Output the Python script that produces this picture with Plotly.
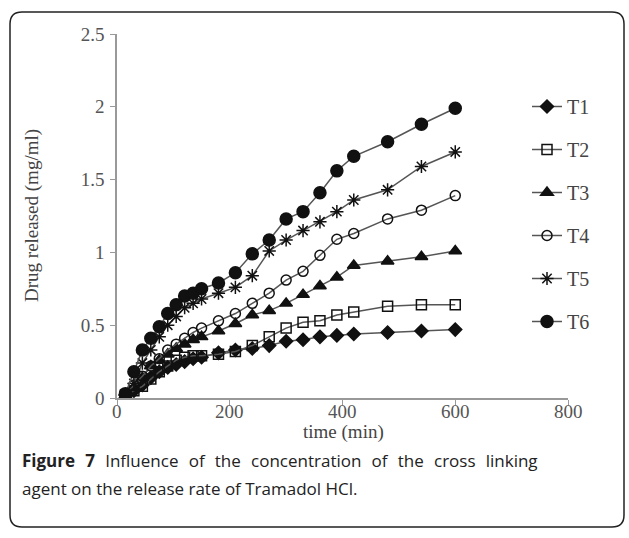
import plotly.graph_objects as go

time_min = [15, 30, 45, 60, 75, 90, 105, 120, 135, 150, 180, 210, 240, 270, 300, 330, 360, 390, 420, 480, 540, 600]

T1 = [0.02, 0.05, 0.09, 0.14, 0.18, 0.21, 0.23, 0.25, 0.27, 0.28, 0.31, 0.33, 0.34, 0.36, 0.39, 0.40, 0.42, 0.43, 0.44, 0.45, 0.46, 0.47]
T2 = [0.02, 0.05, 0.08, 0.13, 0.18, 0.22, 0.26, 0.28, 0.29, 0.29, 0.30, 0.32, 0.36, 0.42, 0.48, 0.52, 0.53, 0.57, 0.59, 0.63, 0.64, 0.64]
T3 = [0.02, 0.07, 0.14, 0.22, 0.26, 0.30, 0.34, 0.37, 0.40, 0.42, 0.46, 0.51, 0.57, 0.60, 0.65, 0.71, 0.77, 0.83, 0.91, 0.94, 0.97, 1.01]
T4 = [0.02, 0.09, 0.15, 0.22, 0.27, 0.33, 0.37, 0.41, 0.45, 0.48, 0.53, 0.58, 0.65, 0.72, 0.81, 0.87, 0.98, 1.09, 1.13, 1.23, 1.29, 1.39]
T5 = [0.02, 0.10, 0.24, 0.33, 0.42, 0.50, 0.56, 0.62, 0.65, 0.68, 0.72, 0.76, 0.84, 1.01, 1.085, 1.15, 1.21, 1.28, 1.36, 1.43, 1.59, 1.69]
T6 = [0.03, 0.18, 0.33, 0.41, 0.49, 0.58, 0.64, 0.70, 0.72, 0.75, 0.79, 0.86, 0.99, 1.085, 1.23, 1.28, 1.41, 1.56, 1.66, 1.76, 1.88, 1.99]

series_names = ["T1", "T2", "T3", "T4", "T5", "T6"]
series_values = [T1, T2, T3, T4, T5, T6]
symbols = ["diamond", "square-open", "triangle-up", "circle-open", "asterisk-open", "circle"]
sizes = [10, 10, 11, 10, 11, 12]

x_ticks = [0, 200, 400, 600, 800]
x_tick_labels = ["0", "200", "400", "600", "800"]
y_ticks = [0, 0.5, 1, 1.5, 2, 2.5]
y_tick_labels = ["0", "0.5", "1", "1.5", "2", "2.5"]

fig = go.Figure()
for name, vals, sym, sz in zip(series_names, series_values, symbols, sizes):
    fig.add_trace(go.Scatter(
        x=time_min, y=vals, name=name, mode="lines+markers",
        legendgroup=name,
        line=dict(color="#555555", width=1.5),
        marker=dict(symbol=sym, size=sz, color="#111111",
                    line=dict(color="#111111", width=1.5)),
    ))

W, H = 629, 538
L, R, T, B = 117, 568, 34, 398
pw, ph = R - L, B - T

def px(x):
    return (x - L) / pw

def py(y):
    return (B - y) / ph

# rounded frame around the whole figure
x0, x1, y0, y1 = 10, 624, 12, 527
r = 12
path = (f"M {px(x0)},{py(y0 + r)} Q {px(x0)},{py(y0)} {px(x0 + r)},{py(y0)} "
        f"L {px(x1 - r)},{py(y0)} Q {px(x1)},{py(y0)} {px(x1)},{py(y0 + r)} "
        f"L {px(x1)},{py(y1 - r)} Q {px(x1)},{py(y1)} {px(x1 - r)},{py(y1)} "
        f"L {px(x0 + r)},{py(y1)} Q {px(x0)},{py(y1)} {px(x0)},{py(y1 - r)} Z")
fig.add_shape(type="path", path=path, xref="paper", yref="paper",
              line=dict(color="#222222", width=1.5))

serif = "Liberation Serif, Times New Roman, serif"
fig.update_layout(
    width=W, height=H,
    margin=dict(l=L, r=W - R, t=T, b=H - B),
    paper_bgcolor="white", plot_bgcolor="white",
    showlegend=True,
    legend=dict(x=px(527), y=py(87), xanchor="left", yanchor="top",
                font=dict(family=serif, size=20, color="#444444"),
                tracegroupgap=14, bgcolor="rgba(0,0,0,0)", itemwidth=30),
    xaxis=dict(range=[0, 800], tickvals=x_ticks, showticklabels=False, showline=True,
               linecolor="#999999", linewidth=1.5, ticks="outside", tickcolor="#999999",
               ticklen=5, showgrid=False, zeroline=False),
    yaxis=dict(range=[0, 2.5], tickvals=y_ticks, ticktext=y_tick_labels, showline=True,
               linecolor="#999999", linewidth=1.5, ticks="outside", tickcolor="#999999",
               ticklen=5, showgrid=False, zeroline=False, ticklabelstandoff=2,
               tickfont=dict(family=serif, size=19, color="#555555")),
)

for tv, tl in zip(x_ticks, x_tick_labels):
    fig.add_annotation(x=tv, y=py(411), xref="x", yref="paper", xanchor="center",
                       yanchor="middle", showarrow=False, text=tl,
                       font=dict(family=serif, size=19, color="#555555"))

fig.add_annotation(x=px(343), y=py(432), xref="paper", yref="paper", xanchor="center",
                   yanchor="middle", showarrow=False, text="time (min)",
                   font=dict(family=serif, size=19, color="#444444"))
fig.add_annotation(x=px(32), y=py(216), xref="paper", yref="paper", xanchor="center",
                   yanchor="middle", showarrow=False, text="Drug released (mg/ml)",
                   textangle=-90, font=dict(family=serif, size=19, color="#444444"))

sans = "Open Sans, Noto Sans, sans-serif"
gap = "\u2002\u200a"
line1_words = ["Influence", "of", "the", "concentration", "of", "the", "cross", "linking"]
line1 = "<b>Figure" + gap + "7</b>" + gap + gap.join(line1_words)
fig.add_annotation(x=px(20), y=py(460), xref="paper", yref="paper", xanchor="left",
                   yanchor="middle", showarrow=False, align="left",
                   text=line1,
                   font=dict(family=sans, size=17, color="#222222"))
fig.add_annotation(x=px(20), y=py(488), xref="paper", yref="paper", xanchor="left",
                   yanchor="middle", showarrow=False, align="left",
                   text="agent on the release rate of Tramadol HCl.",
                   font=dict(family=sans, size=17, color="#222222"))

fig.write_html("out.html", config={"displayModeBar": False},
               post_script="document.body.style.margin='0px';")
